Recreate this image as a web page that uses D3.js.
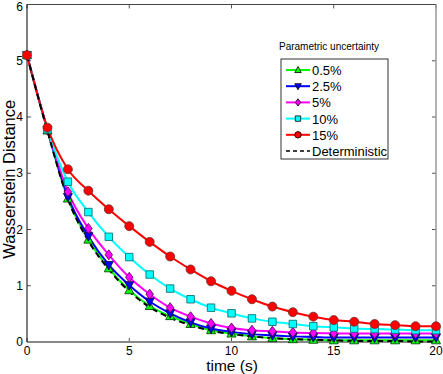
<!DOCTYPE html>
<html><head><meta charset="utf-8">
<script src="https://cdn.jsdelivr.net/npm/d3@7"></script>
<style>body{margin:0;background:#fff}svg{display:block;font-family:"Liberation Sans",Arial,sans-serif}</style>
</head><body><svg id="c" width="443" height="374"></svg>
<script>
const time = d3.range(0, 21);
const seriesNames = ["0.5%", "2.5%", "5%", "10%", "15%", "Deterministic"];
const vals05 = [5.1,3.76,2.55,1.82,1.31,0.92,0.64,0.46,0.32,0.21,0.15,0.10,0.07,0.05,0.04,0.03,0.03,0.03,0.03,0.03,0.03];
const vals25 = [5.1,3.77,2.58,1.88,1.37,1.01,0.72,0.51,0.35,0.24,0.18,0.14,0.12,0.10,0.09,0.08,0.08,0.08,0.08,0.08,0.08];
const vals5  = [5.1,3.78,2.67,2.02,1.55,1.15,0.85,0.61,0.45,0.33,0.25,0.21,0.19,0.17,0.16,0.155,0.15,0.15,0.15,0.15,0.15];
const vals10 = [5.1,3.78,2.85,2.31,1.87,1.51,1.20,0.95,0.76,0.61,0.51,0.42,0.36,0.32,0.28,0.26,0.24,0.23,0.22,0.21,0.21];
const vals15 = [5.1,3.81,3.07,2.69,2.36,2.06,1.78,1.52,1.29,1.08,0.91,0.76,0.63,0.53,0.45,0.39,0.36,0.32,0.30,0.28,0.28];
const valsDet= [5.1,3.75,2.54,1.80,1.29,0.90,0.62,0.43,0.30,0.20,0.14,0.10,0.07,0.05,0.04,0.03,0.02,0.02,0.02,0.01,0.01];
const colors = ["#00ff00","#0000ff","#ff00ff","#00ffff","#ff0000","#000000"];
const markerStroke = ["#003300","#000033","#440044","#006666","#663333",null];
const markers = ["triangle","triangleDown","diamond","square","circle",null];
const xTicks = [0,5,10,15,20];
const yTicks = [0,1,2,3,4,5,6];

const allVals = [vals05, vals25, vals5, vals10, vals15, valsDet];
const svg = d3.select("#c");
const L=27, R=436, T=4.5, B=342;
const x = d3.scaleLinear().domain([0,20]).range([L,R]);
const y = d3.scaleLinear().domain([0,6]).range([B,T]);

const g = svg.append("g");
xTicks.forEach(t=>{
  g.append("line").attr("x1",x(t)).attr("x2",x(t)).attr("y1",B).attr("y2",B-4).attr("stroke","#555");
  g.append("line").attr("x1",x(t)).attr("x2",x(t)).attr("y1",T).attr("y2",T+4).attr("stroke","#555");
  g.append("text").attr("x",x(t)).attr("y",B+13).attr("text-anchor","middle").attr("font-size",12).text(t);
});
yTicks.forEach(t=>{
  g.append("line").attr("x1",L).attr("x2",L+4).attr("y1",y(t)).attr("y2",y(t)).attr("stroke","#555");
  g.append("line").attr("x1",R).attr("x2",R-4).attr("y1",y(t)).attr("y2",y(t)).attr("stroke","#555");
  g.append("text").attr("x",L-4).attr("y",y(t)+(t===6?6:4)).attr("text-anchor","end").attr("font-size",12).text(t);
});
g.append("line").attr("x1",L).attr("x2",R).attr("y1",T).attr("y2",T).attr("stroke","#444").attr("stroke-width",1);
g.append("line").attr("x1",R).attr("x2",R).attr("y1",T).attr("y2",B).attr("stroke","#999").attr("stroke-width",1.5);
g.append("line").attr("x1",L).attr("x2",R).attr("y1",B).attr("y2",B).attr("stroke","#888").attr("stroke-width",2);
g.append("line").attr("x1",L).attr("x2",L).attr("y1",T).attr("y2",B).attr("stroke","#000").attr("stroke-width",1);

svg.append("text").attr("x",232).attr("y",371).attr("text-anchor","middle").attr("font-size",15.5).text("time (s)");
svg.append("text").attr("transform",`translate(15,${(T+B)/2+6}) rotate(-90)`).attr("text-anchor","middle").attr("font-size",16.5).text("Wasserstein Distance");

const line = d3.line().x((d,i)=>x(time[i])).y(d=>y(d)).curve(d3.curveMonotoneX);
const plot = svg.append("g");
allVals.forEach((v,k)=>{
  plot.append("path").attr("d",line(v)).attr("fill","none").attr("stroke",colors[k])
    .attr("stroke-width",2).attr("stroke-dasharray",k===5?"6,4":null);
});
function sym(type, s){
  const p = d3.path();
  if(type==="triangle"){p.moveTo(0,-s);p.lineTo(s*0.9,s*0.7);p.lineTo(-s*0.9,s*0.7);p.closePath();}
  else if(type==="triangleDown"){p.moveTo(0,s);p.lineTo(s*0.9,-s*0.7);p.lineTo(-s*0.9,-s*0.7);p.closePath();}
  else if(type==="diamond"){p.moveTo(0,-s);p.lineTo(s*0.75,0);p.lineTo(0,s);p.lineTo(-s*0.75,0);p.closePath();}
  else if(type==="square"){p.rect(-s*0.75,-s*0.75,s*1.5,s*1.5);}
  else if(type==="circle"){p.arc(0,0,s*0.9,0,2*Math.PI);}
  return p.toString();
}
allVals.forEach((v,k)=>{
  if(!markers[k]) return;
  v.forEach((d,i)=>{
    plot.append("path").attr("d",sym(markers[k],5)).attr("transform",`translate(${x(time[i])},${y(d)})`)
      .attr("fill",colors[k]).attr("stroke",markerStroke[k]).attr("stroke-width",0.8);
  });
});

const lg = svg.append("g");
lg.append("text").attr("x",279).attr("y",50).attr("font-size",10).text("Parametric uncertainty");
lg.append("rect").attr("x",281).attr("y",59).attr("width",107).attr("height",100).attr("fill","#fff").attr("stroke","#333").attr("stroke-width",1);
seriesNames.forEach((n,k)=>{
  const yy = 70 + k*16.2;
  lg.append("line").attr("x1",286).attr("x2",310).attr("y1",yy).attr("y2",yy).attr("stroke",colors[k]).attr("stroke-width",k===5?1.5:2).attr("stroke-dasharray",k===5?"4,3":null);
  if(markers[k]) lg.append("path").attr("d",sym(markers[k],3.6)).attr("transform",`translate(298,${yy})`).attr("fill",colors[k]).attr("stroke","#000").attr("stroke-width",0.8);
  lg.append("text").attr("x",312).attr("y",yy+5).attr("font-size",13).text(n);
});
</script></body></html>
